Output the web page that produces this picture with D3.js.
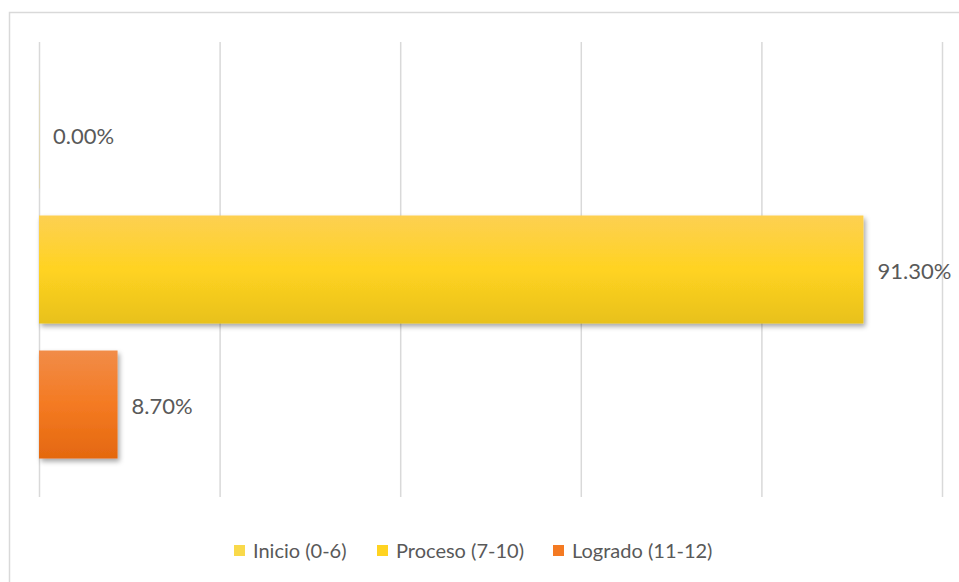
<!DOCTYPE html>
<html>
<head>
<meta charset="utf-8">
<script src="https://cdn.jsdelivr.net/npm/d3@7"></script>
<style>
  body { margin: 0; background: #fff; }
  svg { display: block; font-family: "Lato", "Open Sans", sans-serif; }
</style>
</head>
<body>
<div id="chart"></div>
<script>
// ------------------------------ DATA ------------------------------
var series = ["Inicio (0-6)", "Proceso (7-10)", "Logrado (11-12)"],
    values = [0.0, 0.913, 0.087],
    labels = ["0.00%", "91.30%", "8.70%"],
    tickValues = [0, 0.2, 0.4, 0.6, 0.8, 1.0];

// ------------------------------ CONFIG ------------------------------
var width = 959, height = 582,
    plotLeft = 39, plotRight = 942,
    plotTop = 42, plotBottom = 497;

var colors = {
    "Inicio (0-6)":    ["#fbe27a", "#f9d94a", "#efcb3a"],
    "Proceso (7-10)":  ["#fdd052", "#ffd321", "#e8c11c"],
    "Logrado (11-12)": ["#f18c48", "#f47a22", "#e4680f"]
};

var svg = d3.select("#chart").append("svg")
    .attr("width", width)
    .attr("height", height);

var defs = svg.append("defs");

series.forEach(function (s, i) {
    var g = defs.append("linearGradient")
        .attr("id", "grad" + i)
        .attr("x1", 0).attr("y1", 0).attr("x2", 0).attr("y2", 1);
    g.append("stop").attr("offset", "0%").attr("stop-color", colors[s][0]);
    g.append("stop").attr("offset", "50%").attr("stop-color", colors[s][1]);
    g.append("stop").attr("offset", "100%").attr("stop-color", colors[s][2]);
});

var shadow = defs.append("filter").attr("id", "shadow")
    .attr("x", "-5%").attr("y", "-10%").attr("width", "115%").attr("height", "130%");
shadow.append("feDropShadow")
    .attr("dx", 2).attr("dy", 3).attr("stdDeviation", 2.5)
    .attr("flood-color", "#000").attr("flood-opacity", 0.35);

// chart border
svg.append("rect")
    .attr("x", 9.5).attr("y", 12.5)
    .attr("width", width + 20).attr("height", height + 20)
    .attr("fill", "none")
    .attr("stroke", "#d9d9d9")
    .attr("stroke-width", 1.5);

// ------------------------------ SCALES ------------------------------
var x = d3.scaleLinear().domain([0, 1]).range([plotLeft, plotRight]);

var y = d3.scaleBand()
    .domain(series)
    .range([plotTop, plotBottom])
    .paddingInner(0.2)
    .paddingOuter(0.285);

// gridlines
svg.append("g")
    .attr("class", "grid")
    .attr("transform", "translate(0," + plotBottom + ")")
    .call(d3.axisBottom(x).tickValues(tickValues).tickSize(-(plotBottom - plotTop)).tickFormat(""))
    .call(function (g) { g.select(".domain").remove(); })
    .call(function (g) {
        g.selectAll(".tick line").attr("stroke", "#d9d9d9").attr("stroke-width", 1.5);
    });

// bars
svg.append("g").selectAll("rect")
    .data(series)
    .enter()
    .append("rect")
    .attr("x", x(0))
    .attr("y", function (d) { return y(d); })
    .attr("width", function (d, i) { return Math.max(x(values[i]) - x(0), 1); })
    .attr("height", y.bandwidth())
    .attr("fill", function (d, i) { return "url(#grad" + i + ")"; })
    .attr("opacity", function (d, i) { return values[i] === 0 ? 0.2 : 1; })
    .attr("filter", "url(#shadow)");

// value labels
svg.append("g").selectAll("text")
    .data(series)
    .enter()
    .append("text")
    .attr("x", function (d, i) { return x(values[i]) + 14; })
    .attr("y", function (d) { return y(d) + y.bandwidth() / 2 + 2; })
    .attr("dy", "0.35em")
    .attr("font-size", 22)
    .attr("fill", "#595959")
    .text(function (d, i) { return labels[i]; });

// ------------------------------ LEGEND ------------------------------
var legendX = [234, 377, 553];
var legend = svg.append("g").selectAll("g")
    .data(series)
    .enter()
    .append("g")
    .attr("transform", function (d, i) { return "translate(" + legendX[i] + ",551)"; });

legend.append("rect")
    .attr("x", 0).attr("y", -6)
    .attr("width", 11).attr("height", 11)
    .attr("fill", function (d) { return colors[d][1]; });

legend.append("text")
    .attr("x", 19)
    .attr("dy", "0.35em")
    .attr("font-size", 20)
    .attr("fill", "#595959")
    .text(function (d) { return d; });
</script>
</body>
</html>
